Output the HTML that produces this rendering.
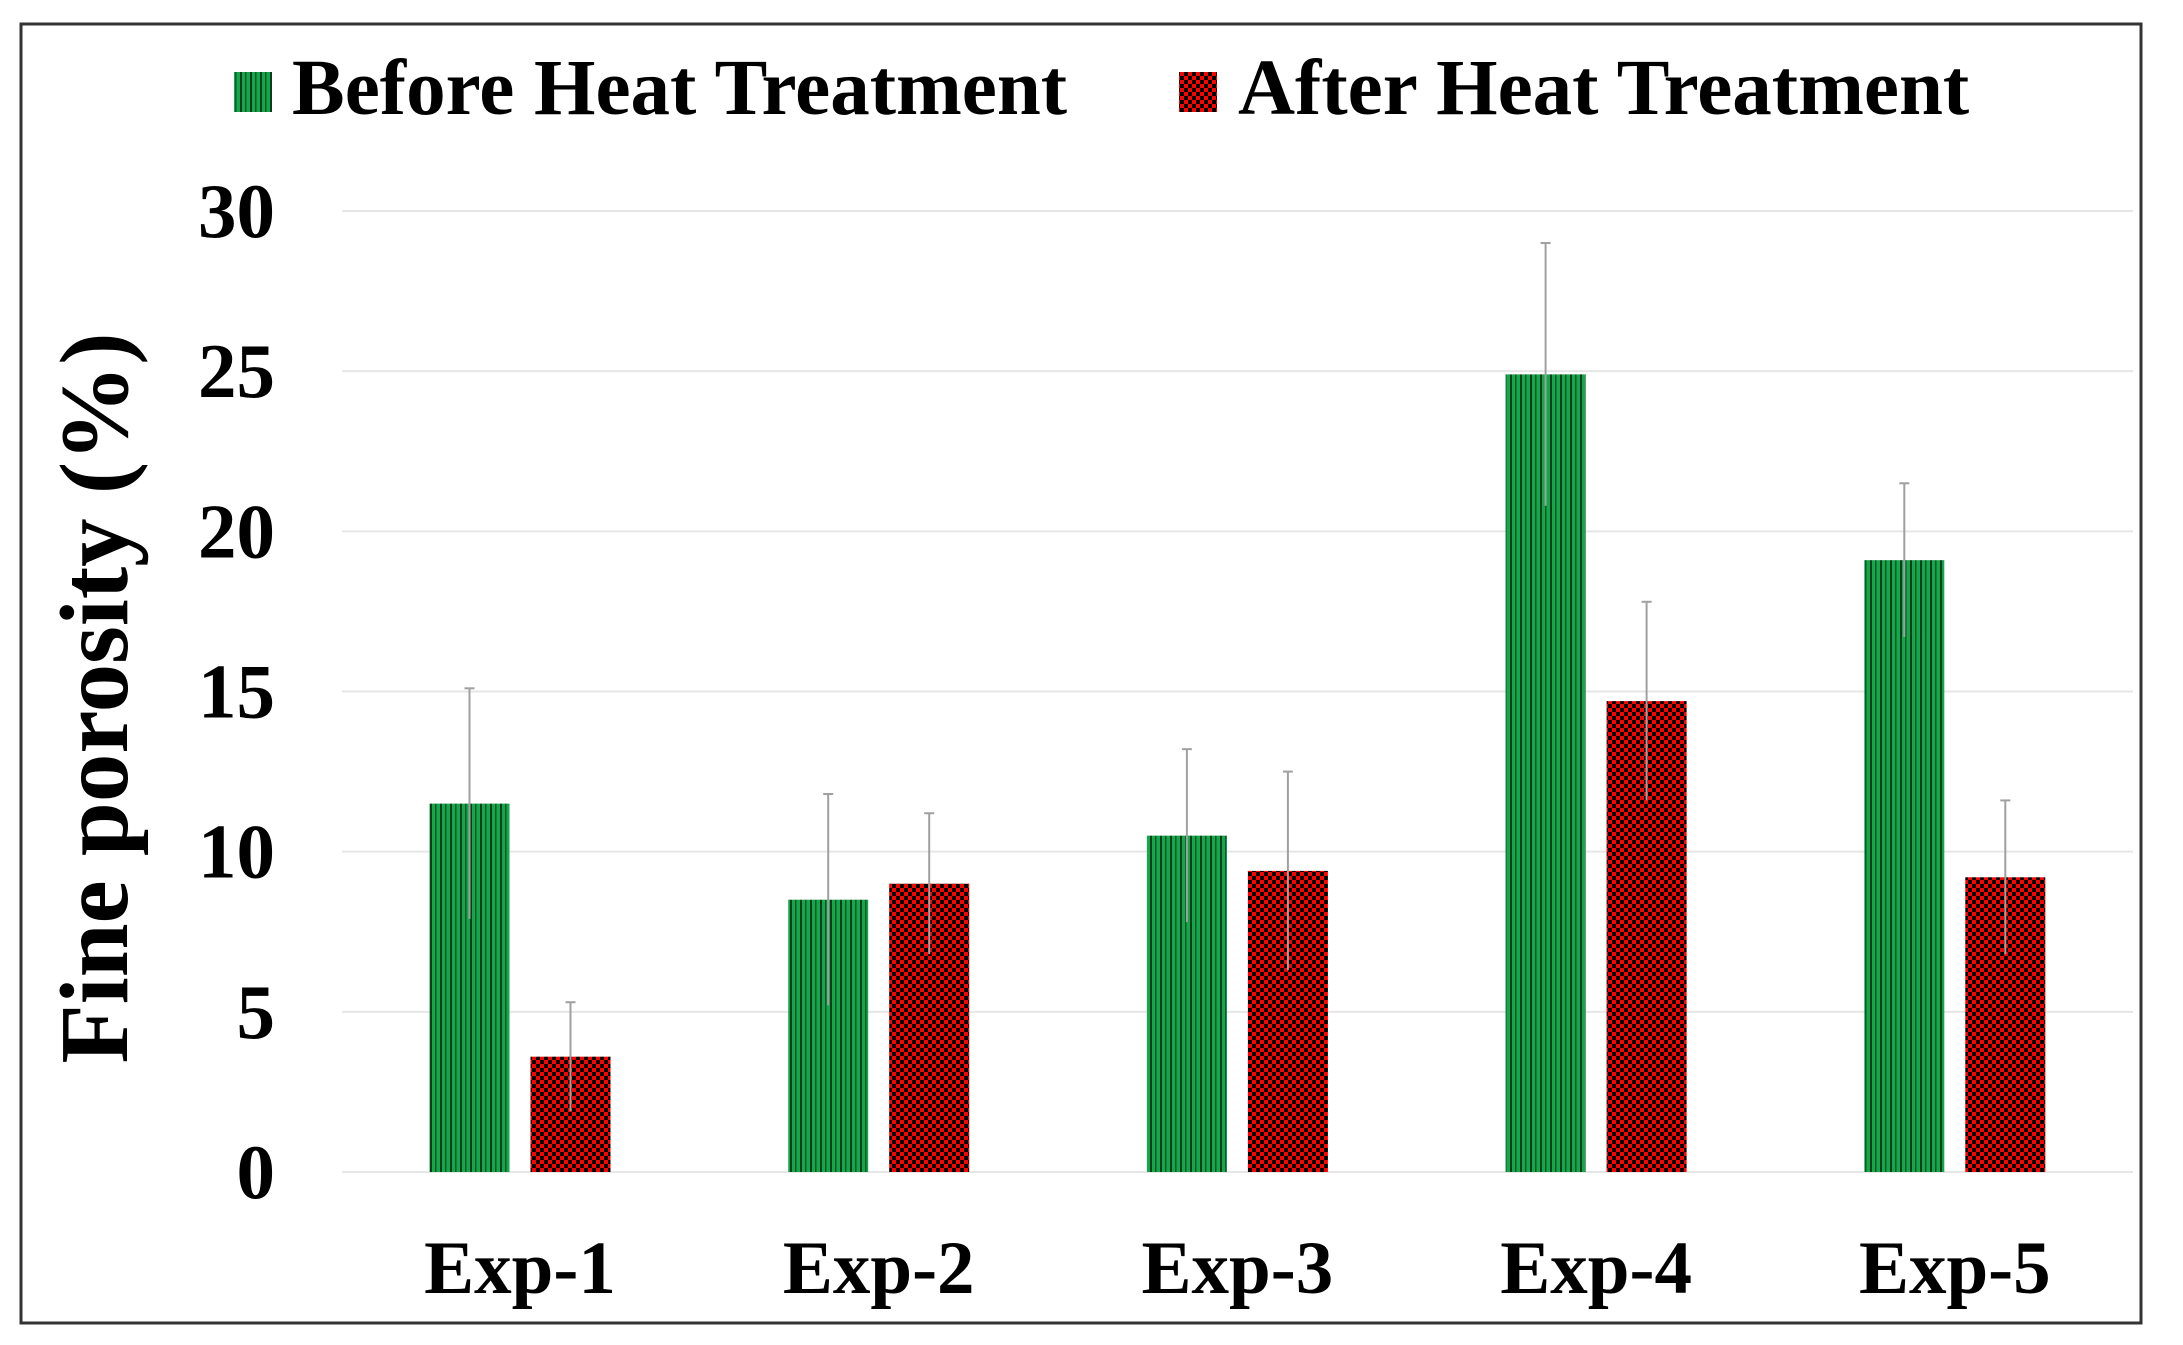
<!DOCTYPE html>
<html><head><meta charset="utf-8"><style>
html,body{margin:0;padding:0;background:#fff}
svg{display:block}
text{font-family:"Liberation Serif",serif;font-weight:bold;fill:#000}
</style></head><body>
<svg width="2183" height="1345" viewBox="0 0 2183 1345">
<defs>
<pattern id="gstripe" width="10" height="10" patternUnits="userSpaceOnUse">
<rect width="10" height="10" fill="#15a84a"/><rect x="0" width="2" height="10" fill="#0b3d1c"/><rect x="5" width="1.5" height="10" fill="#0d5a28"/>
</pattern>
<pattern id="rcheck" width="8" height="8" patternUnits="userSpaceOnUse">
<rect width="8" height="8" fill="#ff0000"/><rect width="4" height="4" fill="#000"/><rect x="4" y="4" width="4" height="4" fill="#000"/>
</pattern>
</defs>
<rect x="21" y="24" width="2120" height="1299" fill="#fff" stroke="#333" stroke-width="3"/>
<g id="grid"></g>
<g id="bars"></g>
<g id="labels"></g>
<text x="127" y="698" font-size="97" text-anchor="middle" transform="rotate(-90 127 698)">Fine porosity (%)</text>
<g>
<rect x="234" y="72" width="38" height="40" fill="url(#gstripe)"/>
<text x="292" y="114" font-size="79">Before Heat Treatment</text>
<rect x="1179" y="72" width="38" height="40" fill="url(#rcheck)"/>
<text x="1238" y="114" font-size="79">After Heat Treatment</text>
</g>
</svg>
<script>
const categories=["Exp-1","Exp-2","Exp-3","Exp-4","Exp-5"];
const beforeVals=[11.5,8.5,10.5,24.9,19.1];
const afterVals=[3.6,9.0,9.4,14.7,9.2];
const beforeErr=[3.6,3.3,2.7,4.1,2.4];
const afterErr=[1.7,2.2,3.1,3.1,2.4];
const yTicks=[0,5,10,15,20,25,30];
const NS="http://www.w3.org/2000/svg";
const y0=1172,pxPer=(1172-211)/30;
const y=v=>y0-v*pxPer;
const plotL=342,plotR=2133,step=358.7,firstC=520,bw=80,gap=21;
const cx=i=>firstC+i*step;
function mk(t,a,p){const e=document.createElementNS(NS,t);for(const k in a)e.setAttribute(k,a[k]);p.appendChild(e);return e;}
const grid=document.getElementById('grid'),bars=document.getElementById('bars'),labels=document.getElementById('labels');
yTicks.forEach(t=>{
 const l=mk('line',{x1:plotL,x2:plotR,y1:y(t),y2:y(t),stroke:'#e6e6e6','stroke-width':2},grid);
 
 
 const tx=mk('text',{x:275,y:y(t)+26,'font-size':77,'text-anchor':'end'},labels);
 tx.textContent=t;
 
 
});
function drawBar(i,v,e,x,fill,name){
 const r=mk('rect',{x:x,y:y(v),width:bw,height:y0-y(v),fill:fill},bars);
 
 
 const mx=x+bw/2;
 const el=mk('line',{x1:mx,x2:mx,y1:y(v+e),y2:y(v-e),stroke:'#a0a0a0','stroke-width':2},bars);
 
 
 const cap=mk('line',{x1:mx-5,x2:mx+5,y1:y(v+e),y2:y(v+e),stroke:'#a0a0a0','stroke-width':2},bars);
 
 
}
categories.forEach((c,i)=>{
 drawBar(i,beforeVals[i],beforeErr[i],cx(i)-gap/2-bw,'url(#gstripe)','before');
 drawBar(i,afterVals[i],afterErr[i],cx(i)+gap/2,'url(#rcheck)','after');
 const t=mk('text',{x:cx(i),y:1293,'font-size':75,'text-anchor':'middle'},labels);
 t.textContent=c;
 
 
});
</script>
</body></html>
